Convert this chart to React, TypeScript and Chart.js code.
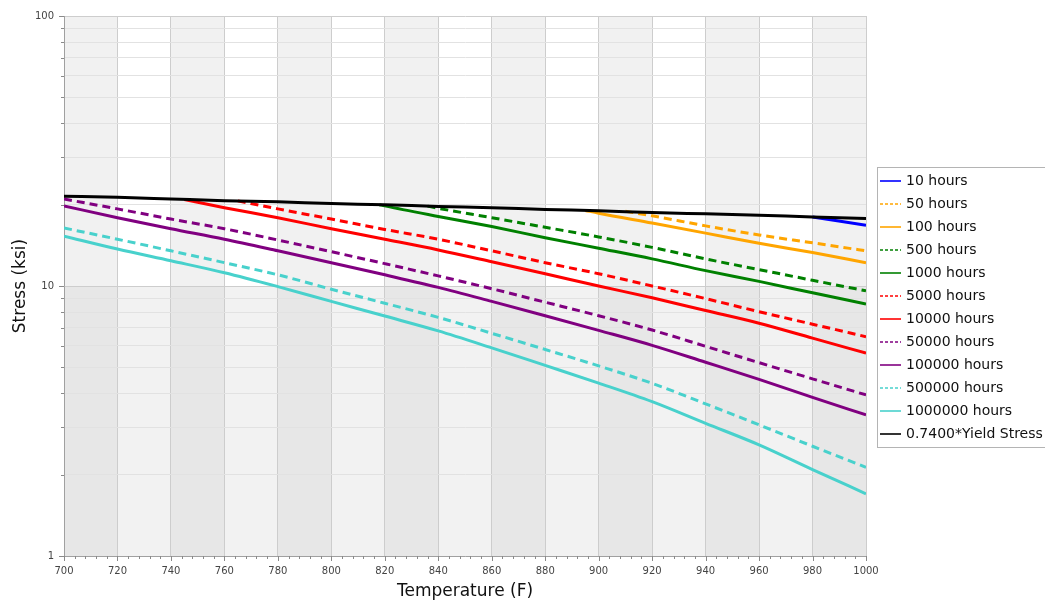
import React, { useEffect, useRef } from 'react';
import { Chart, registerables } from 'chart.js';

Chart.register(...registerables);

// Temperature grid (F)
const temps = [700, 720, 740, 760, 780, 800, 820, 840, 860, 880, 900, 920, 940, 960, 980, 1000];

// 0.7400*Yield Stress (ksi)
const yieldTemps = temps;
const yieldStress = [21.5, 21.3, 21.0, 20.7, 20.5, 20.2, 20.0, 19.7, 19.5, 19.2, 19.0, 18.7, 18.5, 18.3, 18.0, 17.8];

// Rupture stress curves (ksi)
const h10Temps = [980, 1000];
const h10 = [18.0, 16.8];

const h50Temps = [910, 920, 940, 960, 980, 1000];
const h50 = [18.9, 18.2, 16.7, 15.45, 14.45, 13.5];

const h100Temps = [895, 900, 920, 940, 960, 980, 1000];
const h100 = [19.05, 18.6, 17.1, 15.7, 14.4, 13.3, 12.2];

const h500Temps = [836, 840, 860, 880, 900, 920, 940, 960, 980, 1000];
const h500 = [19.76, 19.4, 17.9, 16.5, 15.2, 13.9, 12.6, 11.5, 10.5, 9.6];

const h1000Temps = [818, 820, 840, 860, 880, 900, 920, 940, 960, 980, 1000];
const h1000 = [20.0, 19.8, 18.1, 16.6, 15.1, 13.8, 12.6, 11.4, 10.4, 9.44, 8.58];

const h5000Temps = [765, 780, 800, 820, 840, 860, 880, 900, 920, 940, 960, 980, 1000];
const h5000 = [20.67, 19.3, 17.7, 16.2, 14.9, 13.5, 12.2, 11.1, 10.0, 8.98, 8.03, 7.22, 6.49];

const h10000Temps = [745, 760, 780, 800, 820, 840, 860, 880, 900, 920, 940, 960, 980, 1000];
const h10000 = [20.9, 19.5, 17.9, 16.3, 14.9, 13.6, 12.3, 11.1, 10.0, 9.04, 8.11, 7.28, 6.41, 5.64];

const h50000Temps = temps;
const h50000 = [21.0, 19.3, 17.7, 16.3, 14.8, 13.4, 12.1, 10.9, 9.77, 8.71, 7.76, 6.87, 5.98, 5.2, 4.53, 3.95];

const h100000Temps = temps;
const h100000 = [19.8, 17.9, 16.3, 14.9, 13.5, 12.2, 11.0, 9.88, 8.77, 7.76, 6.85, 6.03, 5.22, 4.51, 3.87, 3.33];

const h500000Temps = temps;
const h500000 = [16.4, 14.9, 13.5, 12.2, 11.0, 9.73, 8.63, 7.65, 6.68, 5.82, 5.06, 4.36, 3.66, 3.06, 2.55, 2.13];

const h1000000Temps = temps;
const h1000000 = [15.3, 13.7, 12.4, 11.2, 9.95, 8.77, 7.74, 6.82, 5.9, 5.08, 4.37, 3.73, 3.1, 2.58, 2.09, 1.7];

const seriesLabels = [
  '10 hours', '50 hours', '100 hours', '500 hours', '1000 hours', '5000 hours',
  '10000 hours', '50000 hours', '100000 hours', '500000 hours', '1000000 hours', '0.7400*Yield Stress',
];
const seriesTemps = [
  h10Temps, h50Temps, h100Temps, h500Temps, h1000Temps, h5000Temps,
  h10000Temps, h50000Temps, h100000Temps, h500000Temps, h1000000Temps, yieldTemps,
];
const seriesValues = [
  h10, h50, h100, h500, h1000, h5000, h10000, h50000, h100000, h500000, h1000000, yieldStress,
];
const seriesColors = [
  '#0000ff', '#ffa500', '#ffa500', '#008000', '#008000', '#ff0000',
  '#ff0000', '#800080', '#800080', '#48d1cc', '#48d1cc', '#000000',
];
const seriesDashed = [false, true, false, true, false, true, false, true, false, true, false, false];

const yTickValues = [1, 2, 3, 4, 5, 6, 7, 8, 9, 10, 20, 30, 40, 50, 60, 70, 80, 90, 100];
const yMajor = [1, 10, 100];

const FONT = 'DejaVu Sans';

const bandsPlugin = {
  id: 'bands',
  beforeDraw(chart: any) {
    const { ctx, chartArea: a, scales } = chart;
    const x = scales.x;
    const y = scales.y;
    const y10 = y.getPixelForValue(10);
    ctx.save();
    for (let i = 0; i < temps.length - 1; i++) {
      const x0 = x.getPixelForValue(temps[i]);
      const x1 = x.getPixelForValue(temps[i + 1]);
      const even = i % 2 === 0;
      ctx.fillStyle = even ? '#f1f1f1' : '#ffffff';
      ctx.fillRect(x0, a.top, x1 - x0, y10 - a.top);
      ctx.fillStyle = even ? '#e7e7e7' : '#f2f2f2';
      ctx.fillRect(x0, y10, x1 - x0, a.bottom - y10);
    }
    ctx.restore();
  },
};

const ticksPlugin = {
  id: 'minorTicks',
  afterDraw(chart: any) {
    const { ctx, chartArea: a, scales } = chart;
    const x = scales.x;
    const y = scales.y;
    ctx.save();
    ctx.strokeStyle = '#8a8a8a';
    ctx.lineWidth = 1;
    ctx.beginPath();
    for (let t = 700; t <= 1000; t += 4) {
      const px = Math.round(x.getPixelForValue(t)) + 0.5;
      const len = t % 20 === 0 ? 5 : 3;
      ctx.moveTo(px, a.bottom);
      ctx.lineTo(px, a.bottom + len);
    }
    for (const v of yTickValues) {
      const py = Math.round(y.getPixelForValue(v)) + 0.5;
      const len = yMajor.includes(v) ? 5 : 3;
      ctx.moveTo(a.left - len, py);
      ctx.lineTo(a.left, py);
    }
    ctx.stroke();
    ctx.restore();
  },
};

const legendPlugin = {
  id: 'boxLegend',
  afterDraw(chart: any) {
    const { ctx, chartArea: a } = chart;
    const left = a.right + 11;
    const top = a.top + 151;
    const rowH = 23.05;
    const height = 280;
    ctx.save();
    ctx.fillStyle = '#ffffff';
    ctx.fillRect(left, top, 1045 - left + 20, height);
    ctx.strokeStyle = '#b4b4b4';
    ctx.lineWidth = 1;
    ctx.strokeRect(Math.round(left) + 0.5, Math.round(top) + 0.5, 1045 - left + 20, height);
    ctx.font = `14px "${FONT}"`;
    ctx.textBaseline = 'middle';
    ctx.textAlign = 'left';
    seriesLabels.forEach((label, i) => {
      const cy = Math.round(top + 13.5 + i * rowH);
      ctx.strokeStyle = seriesColors[i];
      ctx.lineWidth = 1.6;
      ctx.setLineDash(seriesDashed[i] ? [3, 2] : []);
      ctx.beginPath();
      ctx.moveTo(left + 3, cy);
      ctx.lineTo(left + 24, cy);
      ctx.stroke();
      ctx.setLineDash([]);
      ctx.fillStyle = '#111111';
      ctx.fillText(label, left + 29, cy);
    });
    ctx.restore();
  },
};

export default function App() {
  const ref = useRef<HTMLCanvasElement | null>(null);

  useEffect(() => {
    if (!ref.current) return;
    const datasets = seriesLabels.map((label, i) => ({
      label,
      data: seriesTemps[i].map((t, j) => ({ x: t, y: seriesValues[i][j] })),
      borderColor: seriesColors[i],
      backgroundColor: seriesColors[i],
      borderWidth: 3,
      borderDash: seriesDashed[i] ? [8, 5] : [],
      pointRadius: 0,
      fill: false,
      cubicInterpolationMode: 'monotone',
      order: i === seriesLabels.length - 1 ? 0 : 1,
    }));

    const chart = new Chart(ref.current, {
      type: 'line',
      data: { datasets },
      options: {
        responsive: false,
        animation: false,
        events: [],
        layout: { padding: { left: 0, right: 179, top: 16, bottom: 0 } },
        plugins: {
          legend: { display: false },
          tooltip: { enabled: false },
        },
        scales: {
          x: {
            type: 'linear',
            min: 700,
            max: 1000,
            afterFit: (s: any) => { s.height = 49; },
            ticks: {
              stepSize: 20,
              autoSkip: false,
              maxRotation: 0,
              padding: 9,
              color: '#444444',
              font: { family: FONT, size: 10 },
              callback: (v: any) => String(v),
            },
            grid: { color: '#cdcdcd', drawTicks: false },
            border: { display: true, color: '#a0a0a0' },
            title: {
              display: true,
              text: 'Temperature (F)',
              color: '#111111',
              font: { family: FONT, size: 17 },
              padding: { top: 3, bottom: 3 },
            },
          },
          y: {
            type: 'logarithmic',
            min: 1,
            max: 100,
            afterFit: (s: any) => { s.width = 64; },
            afterBuildTicks: (s: any) => {
              s.ticks = yTickValues.map((v) => ({ value: v, major: yMajor.includes(v) }));
            },
            ticks: {
              autoSkip: false,
              padding: 10,
              color: '#444444',
              font: { family: FONT, size: 10 },
              callback: (v: any) => (yMajor.includes(Number(v)) ? String(v) : ''),
            },
            grid: {
              drawTicks: false,
              color: (c: any) => (c.tick && yMajor.includes(c.tick.value) ? '#cdcdcd' : '#e2e2e2'),
            },
            border: { display: true, color: '#a0a0a0' },
            title: {
              display: true,
              text: 'Stress (ksi)',
              color: '#111111',
              font: { family: FONT, size: 17 },
              padding: { top: 10, bottom: 0 },
            },
          },
        },
      },
      plugins: [bandsPlugin, ticksPlugin, legendPlugin],
    } as any);

    return () => chart.destroy();
  }, []);

  return (
    <div style={{ position: 'absolute', left: 0, top: 0, width: 1045, height: 605, overflow: 'hidden', background: '#ffffff' }}>
      <canvas ref={ref} width={1045} height={605} />
    </div>
  );
}
